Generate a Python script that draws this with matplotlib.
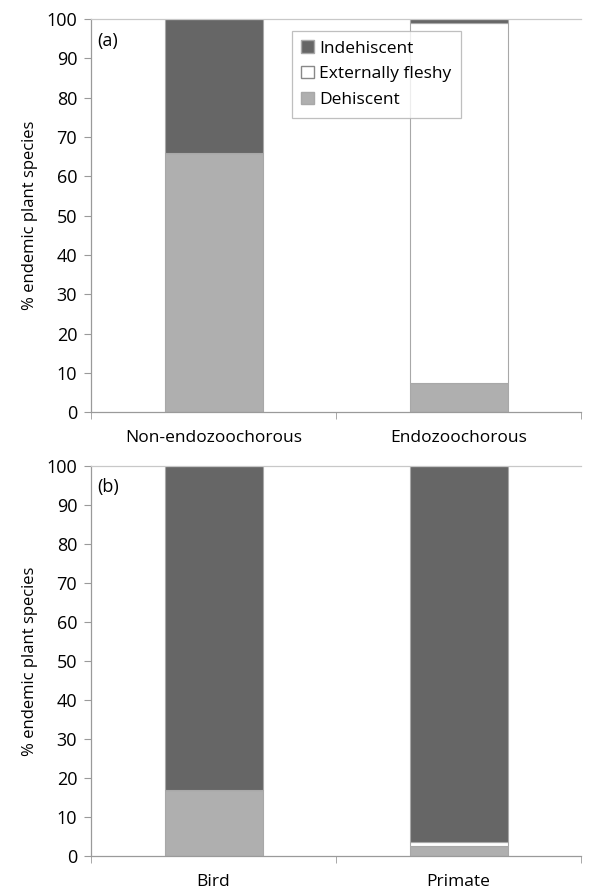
import numpy as np
import matplotlib
matplotlib.use("Agg")
import matplotlib.pyplot as plt
from matplotlib.patches import Patch

plt.rcParams['font.family'] = ['Open Sans', 'DejaVu Sans']

# data (percent of endemic plant species)
cats_a = ["Non-endozoochorous", "Endozoochorous"]
dehiscent_a = [66.0, 7.4]
fleshy_a = [0.0, 91.6]
indehiscent_a = [34.0, 1.0]

cats_b = ["Bird", "Primate"]
dehiscent_b = [17.0, 2.6]
fleshy_b = [0.0, 1.1]
indehiscent_b = [83.0, 96.3]

series_names = ["Indehiscent", "Externally fleshy", "Dehiscent"]
c_ind = "#666666"
c_fle = "#ffffff"
c_deh = "#afafaf"
edge = "#a8a8a8"
axis_col = "#9a9a9a"

fig = plt.figure(figsize=(6.08, 8.92), dpi=100)
ax_a = fig.add_axes([0.1497, 0.538, 0.806, 0.4406])
ax_b = fig.add_axes([0.1497, 0.0404, 0.806, 0.4372])


def draw_panel(ax, cats, deh, fle, ind, tag):
    x = np.arange(len(cats))
    w = 0.40
    deh = np.array(deh)
    fle = np.array(fle)
    ind = np.array(ind)
    ax.bar(x, deh, w, color=c_deh, edgecolor=edge, linewidth=0.8, label="Dehiscent")
    ax.bar(x, fle, w, bottom=deh, color=c_fle, edgecolor=edge, linewidth=0.8, label="Externally fleshy")
    ax.bar(x, ind, w, bottom=deh + fle, color=c_ind, edgecolor=edge, linewidth=0.8, label="Indehiscent")
    ax.set_xlim(-0.5, len(cats) - 0.5)
    ax.set_ylim(0, 100)
    ax.set_yticks(np.arange(0, 101, 10))
    ax.set_xticks(x)
    ax.set_xticklabels(cats, fontsize=12.5)
    ax.set_xticks(np.arange(-0.5, len(cats), 1.0), minor=True)
    ax.tick_params(axis='x', which='major', length=0, pad=13)
    ax.tick_params(axis='x', which='minor', length=5, color=axis_col, direction='out')
    ax.tick_params(axis='y', length=5, color=axis_col, direction='out', labelsize=13, pad=5)
    for s in ["left", "bottom", "top"]:
        ax.spines[s].set_color(axis_col)
        ax.spines[s].set_linewidth(0.9)
    ax.spines["top"].set_color("#c8c8c8")
    ax.spines["right"].set_visible(False)
    ax.set_ylabel("% endemic plant species", fontsize=12, labelpad=6)
    ax.text(0.012, 0.945, tag, transform=ax.transAxes, fontsize=13, ha="left", va="center")


draw_panel(ax_a, cats_a, dehiscent_a, fleshy_a, indehiscent_a, "(a)")
draw_panel(ax_b, cats_b, dehiscent_b, fleshy_b, indehiscent_b, "(b)")

handles = [Patch(facecolor=c_ind, edgecolor=edge),
           Patch(facecolor=c_fle, edgecolor="#888888"),
           Patch(facecolor=c_deh, edgecolor=edge)]
leg = ax_a.legend(handles, series_names, loc="upper left", bbox_to_anchor=(0.41, 0.97),
                  fontsize=12.5, frameon=True, fancybox=False, handlelength=0.7, handleheight=0.7,
                  handletextpad=0.3, labelspacing=0.55, borderpad=0.55, borderaxespad=0)
leg.get_frame().set_edgecolor("#b0b0b0")
leg.get_frame().set_linewidth(0.9)

fig.savefig("out.png", dpi=100)
